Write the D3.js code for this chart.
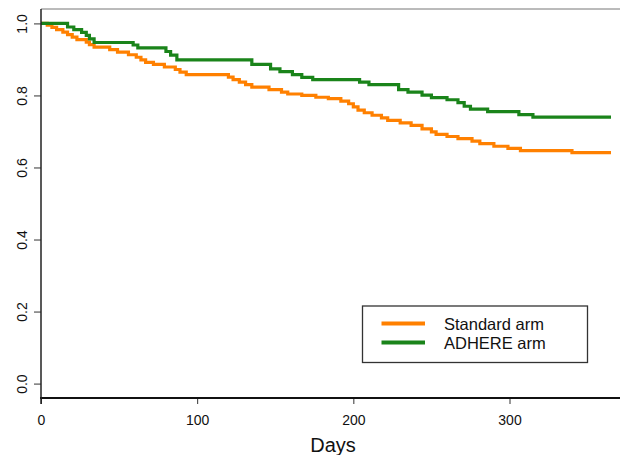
<!DOCTYPE html>
<html>
<head>
<meta charset="utf-8">
<script src="https://cdn.jsdelivr.net/npm/d3@7/dist/d3.min.js"></script>
<style>
  html, body { margin: 0; padding: 0; background: #fff; }
  svg { display: block; font-family: "Liberation Sans", Arial, Helvetica, sans-serif; }
</style>
</head>
<body>
<svg id="chart" width="620" height="455"></svg>
<script>
// Kaplan-Meier step points: day at which the estimate changes, and the new survival value
const standardDays = [0, 4, 7, 10, 14, 17, 20, 23, 29, 31, 34, 44, 49, 56, 61, 64, 67, 72, 79, 86, 89, 93,
  120, 123, 127, 131, 135, 146, 154, 158, 167, 176, 184, 192, 197, 200, 203, 207, 212, 218, 222, 230,
  237, 244, 250, 253, 260, 267, 276, 281, 290, 299, 307, 340, 365];
const standardSurv = [1.0, 0.995, 0.989, 0.983, 0.976, 0.969, 0.962, 0.955, 0.948, 0.941, 0.934, 0.927,
  0.920, 0.913, 0.906, 0.899, 0.892, 0.886, 0.879, 0.872, 0.865, 0.858, 0.851, 0.844, 0.837, 0.830,
  0.823, 0.816, 0.809, 0.804, 0.800, 0.795, 0.791, 0.784, 0.777, 0.768, 0.759, 0.752, 0.745, 0.738,
  0.731, 0.724, 0.717, 0.707, 0.699, 0.692, 0.686, 0.680, 0.673, 0.666, 0.659, 0.653, 0.647, 0.641, 0.641];

const adhereDays = [0, 17, 21, 26, 29, 31, 34, 59, 62, 80, 83, 87, 135, 147, 153, 161, 167, 174, 204, 210,
  229, 235, 244, 250, 260, 267, 271, 275, 286, 306, 315, 365];
const adhereSurv = [1.0, 0.990, 0.983, 0.975, 0.967, 0.957, 0.947, 0.940, 0.932, 0.922, 0.912, 0.899,
  0.886, 0.874, 0.866, 0.858, 0.850, 0.844, 0.837, 0.830, 0.816, 0.809, 0.801, 0.794, 0.788, 0.780,
  0.770, 0.762, 0.755, 0.747, 0.740, 0.740];

const seriesNames = ["Standard arm", "ADHERE arm"];
const seriesColors = ["#ff8000", "#1a841a"];
const xTicks = [0, 100, 200, 300];
const yTicks = [0, 0.2, 0.4, 0.6, 0.8, 1.0];
const xTitle = "Days";

const series = [
  { name: seriesNames[0], color: seriesColors[0], pts: standardDays.map((d, i) => [d, standardSurv[i]]) },
  { name: seriesNames[1], color: seriesColors[1], pts: adhereDays.map((d, i) => [d, adhereSurv[i]]) }
];

const svg = d3.select("#chart");
const plotLeft = 41, plotRight = 620, plotTop = 9, plotBottom = 398;

const x = d3.scaleLinear().domain([0, 300]).range([plotLeft, 509.5]);
const y = d3.scaleLinear().domain([-0.04, 1.04]).range([plotBottom, plotTop]);

// curves
const line = d3.line().x(d => x(d[0])).y(d => y(d[1])).curve(d3.curveStepAfter);
series.forEach(s => {
  svg.append("path")
    .attr("d", line(s.pts))
    .attr("fill", "none")
    .attr("stroke", s.color)
    .attr("stroke-width", 3.2)
    .attr("stroke-linejoin", "miter");
});

// plot frame (top edge)
svg.append("line").attr("x1", plotLeft).attr("x2", plotRight).attr("y1", plotTop).attr("y2", plotTop)
  .attr("stroke", "#777").attr("stroke-width", 1);

// x axis
const xAxis = svg.append("g").attr("transform", `translate(0,${plotBottom})`)
  .call(d3.axisBottom(x).tickValues(xTicks).tickFormat(d3.format("d")).tickSize(6).tickSizeOuter(0));
xAxis.select(".domain").remove();
xAxis.selectAll(".tick line").attr("stroke", "#333").attr("stroke-width", 1);
xAxis.selectAll(".tick text").attr("font-size", "14px").attr("fill", "#111").attr("y", 17).attr("dy", "0.71em");
svg.append("line").attr("x1", plotLeft - 1).attr("x2", plotRight).attr("y1", plotBottom).attr("y2", plotBottom)
  .attr("stroke", "#111").attr("stroke-width", 2);

// y axis
const yAxis = svg.append("g").attr("transform", `translate(${plotLeft},0)`)
  .call(d3.axisLeft(y).tickValues(yTicks).tickFormat(d3.format(".1f")).tickSize(7).tickSizeOuter(0));
yAxis.select(".domain").remove();
yAxis.selectAll(".tick line").attr("stroke", "#333").attr("stroke-width", 1);
yAxis.selectAll(".tick text")
  .attr("font-size", "14px").attr("fill", "#111")
  .attr("x", null).attr("dy", null)
  .attr("text-anchor", "middle")
  .attr("transform", "translate(-19,0) rotate(-90)")
  .attr("y", 0).attr("dy", "0.36em");
svg.append("line").attr("x1", plotLeft).attr("x2", plotLeft).attr("y1", plotTop).attr("y2", plotBottom + 6)
  .attr("stroke", "#222").attr("stroke-width", 1.5);

// axis title
svg.append("text").attr("x", 333).attr("y", 452).attr("text-anchor", "middle")
  .attr("font-size", "20px").attr("fill", "#111").text(xTitle);

// legend
const lg = svg.append("g");
lg.append("rect").attr("x", 362.5).attr("y", 306).attr("width", 225).attr("height", 56.5)
  .attr("fill", "#fff").attr("stroke", "#333").attr("stroke-width", 1.3);
series.forEach((s, i) => {
  const ly = 323.5 + i * 19;
  lg.append("line").attr("x1", 381.5).attr("x2", 425).attr("y1", ly).attr("y2", ly)
    .attr("stroke", s.color).attr("stroke-width", 4);
  lg.append("text").attr("x", 444).attr("y", ly + 6.5).attr("font-size", "16.5px").attr("fill", "#111")
    .text(s.name);
});
</script>
</body>
</html>
